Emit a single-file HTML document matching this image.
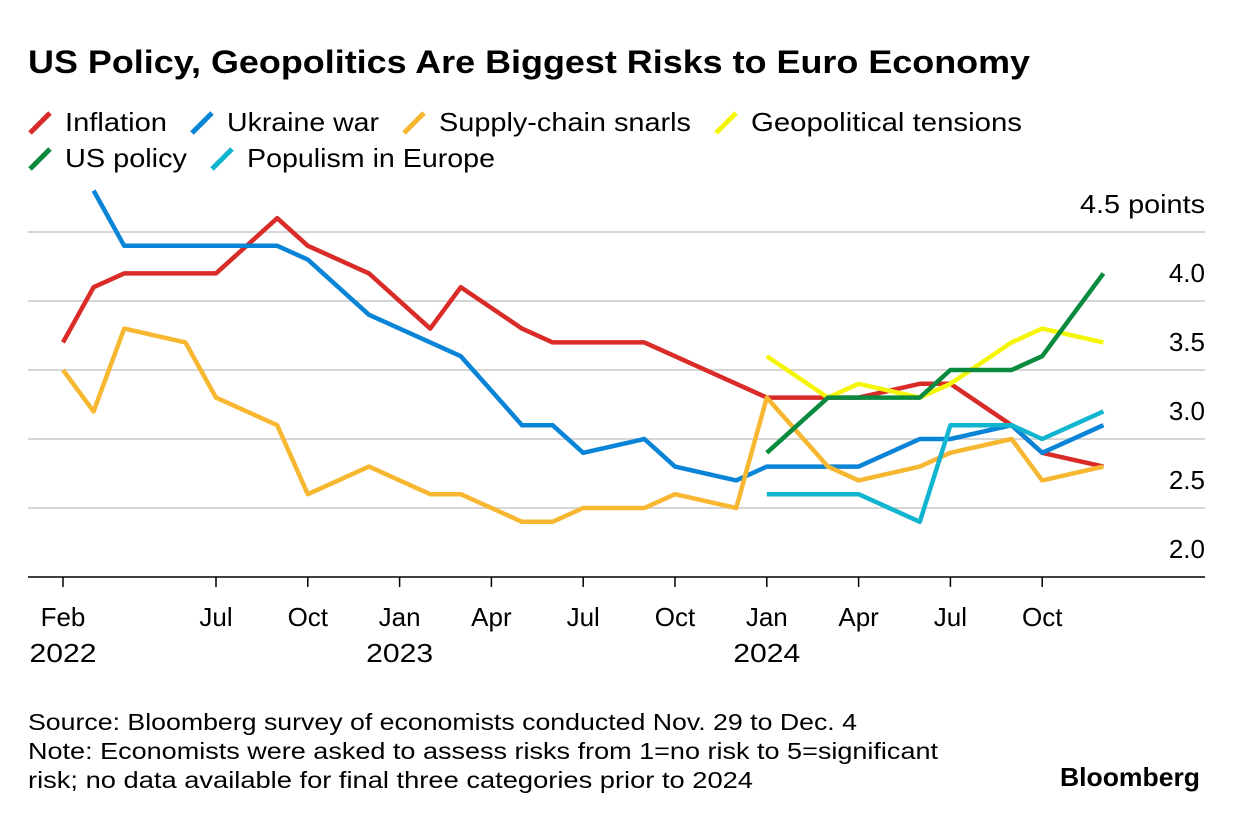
<!DOCTYPE html>
<html><head><meta charset="utf-8"><style>
body{margin:0;width:1240px;height:822px;background:#fff;font-family:"Liberation Sans",sans-serif;overflow:hidden}
</style></head><body>
<svg width="1240" height="822" font-family="Liberation Sans, sans-serif">
<text x="28" y="73" font-size="32" font-weight="bold" fill="#000" textLength="1002" lengthAdjust="spacingAndGlyphs">US Policy, Geopolitics Are Biggest Risks to Euro Economy</text>
<g id="legend" font-size="26" fill="#000"></g>
<g id="grid"></g>
<g id="lines"></g>
<g id="xaxis" font-size="26" fill="#000"></g>
<g font-size="23" fill="#000">
<text x="28" y="730" textLength="829" lengthAdjust="spacingAndGlyphs">Source: Bloomberg survey of economists conducted Nov. 29 to Dec. 4</text>
<text x="28" y="759" textLength="910" lengthAdjust="spacingAndGlyphs">Note: Economists were asked to assess risks from 1=no risk to 5=significant</text>
<text x="28" y="788" textLength="725" lengthAdjust="spacingAndGlyphs">risk; no data available for final three categories prior to 2024</text>
</g>
<text x="1060" y="786" font-size="26" font-weight="bold" fill="#000" textLength="140" lengthAdjust="spacingAndGlyphs">Bloomberg</text>
</svg>
<script>
const yTicks=[2.0,2.5,3.0,3.5,4.0,4.5];
const xTickMonths=[0,5,8,11,14,17,20,23,26,29,32];
const xTickLabels=["Feb","Jul","Oct","Jan","Apr","Jul","Oct","Jan","Apr","Jul","Oct"];
const xYearLabels=["2022","","","2023","","","","2024","","",""];
const seriesNames=["Inflation","Ukraine war","Supply-chain snarls","Geopolitical tensions","US policy","Populism in Europe"];
const seriesColors=["#d92b27","#0a84d6","#f7b731","#f5f50a","#0a8a3e","#11b5cf"];
const inflationMonths=[0,1,2,5,7,8,10,12,13,15,16,19,23,26,28,29,31,32,34];
const inflationValues=[3.7,4.1,4.2,4.2,4.6,4.4,4.2,3.8,4.1,3.8,3.7,3.7,3.3,3.3,3.4,3.4,3.1,2.9,2.8];
const ukraineMonths=[1,2,7,8,10,13,15,16,17,19,20,22,23,26,28,29,31,32,34];
const ukraineValues=[4.8,4.4,4.4,4.3,3.9,3.6,3.1,3.1,2.9,3.0,2.8,2.7,2.8,2.8,3.0,3.0,3.1,2.9,3.1];
const supplyMonths=[0,1,2,4,5,7,8,10,12,13,15,16,17,19,20,22,23,25,26,28,29,31,32,34];
const supplyValues=[3.5,3.2,3.8,3.7,3.3,3.1,2.6,2.8,2.6,2.6,2.4,2.4,2.5,2.5,2.6,2.5,3.3,2.8,2.7,2.8,2.9,3.0,2.7,2.8];
const geoMonths=[23,25,26,28,29,31,32,34];
const geoValues=[3.6,3.3,3.4,3.3,3.4,3.7,3.8,3.7];
const usMonths=[23,25,26,28,29,31,32,34];
const usValues=[2.9,3.3,3.3,3.3,3.5,3.5,3.6,4.2];
const popMonths=[23,26,28,29,31,32,34];
const popValues=[2.6,2.6,2.4,3.1,3.1,3.0,3.2];
const allMonths=[inflationMonths,ukraineMonths,supplyMonths,geoMonths,usMonths,popMonths];
const allValues=[inflationValues,ukraineValues,supplyValues,geoValues,usValues,popValues];
const NS="http://www.w3.org/2000/svg";
const X=m=>63+m*30.6;
const Y=v=>577-(v-2)*138;
function mk(tag,attrs,parent){const e=document.createElementNS(NS,tag);for(const k in attrs)e.setAttribute(k,attrs[k]);parent.appendChild(e);return e;}
const grid=document.getElementById('grid');
yTicks.forEach((v,i)=>{
  const l=mk('line',{x1:28,x2:1205,y1:Y(v),y2:Y(v),stroke:i==0?'#000':'#d6d6d6','stroke-width':i==0?1.5:2},grid);
  
  
  const t=mk('text',{x:1205,y:Y(v)-19,'text-anchor':'end','font-size':26,fill:'#000'},grid);
  t.textContent=(v.toFixed(1))+(i==yTicks.length-1?' points':'');
  if(i==yTicks.length-1){t.setAttribute('textLength',125);t.setAttribute('lengthAdjust','spacingAndGlyphs');}
  
  
});
const xa=document.getElementById('xaxis');
xTickMonths.forEach((m,i)=>{
  const tk=mk('line',{x1:X(m),x2:X(m),y1:577,y2:587,stroke:'#000','stroke-width':1.5},xa);
  
  
  const t=mk('text',{x:X(m),y:626,'text-anchor':'middle'},xa);
  t.textContent=xTickLabels[i];
  
  
  if(xYearLabels[i]){const y=mk('text',{x:X(m),y:662,'text-anchor':'middle',textLength:67,lengthAdjust:'spacingAndGlyphs'},xa);
  y.textContent=xYearLabels[i];
  
  }
});
const lines=document.getElementById('lines');
allValues.forEach((vals,s)=>{
  const pts=vals.map((v,i)=>X(allMonths[s][i]).toFixed(1)+','+Y(v).toFixed(1)).join(' ');
  const p=mk('polyline',{points:pts,fill:'none',stroke:seriesColors[s],'stroke-width':4.5,'stroke-linejoin':'round'},lines);
  
  
});
const leg=document.getElementById('legend');
const legPos=[[28,122],[190,122],[402,122],[714,122],[28,158],[210,158]];
const legLen=[102,152,252,271,122,248];
seriesNames.forEach((n,i)=>{
  const [x,y]=legPos[i];
  const m=mk('line',{x1:x+2,y1:y+11,x2:x+22,y2:y-9,stroke:seriesColors[i],'stroke-width':5},leg);
  
  
  const t=mk('text',{x:x+37,y:y+9,textLength:legLen[i],lengthAdjust:'spacingAndGlyphs'},leg);
  t.textContent=n;
  
  
});
</script>
</body></html>
